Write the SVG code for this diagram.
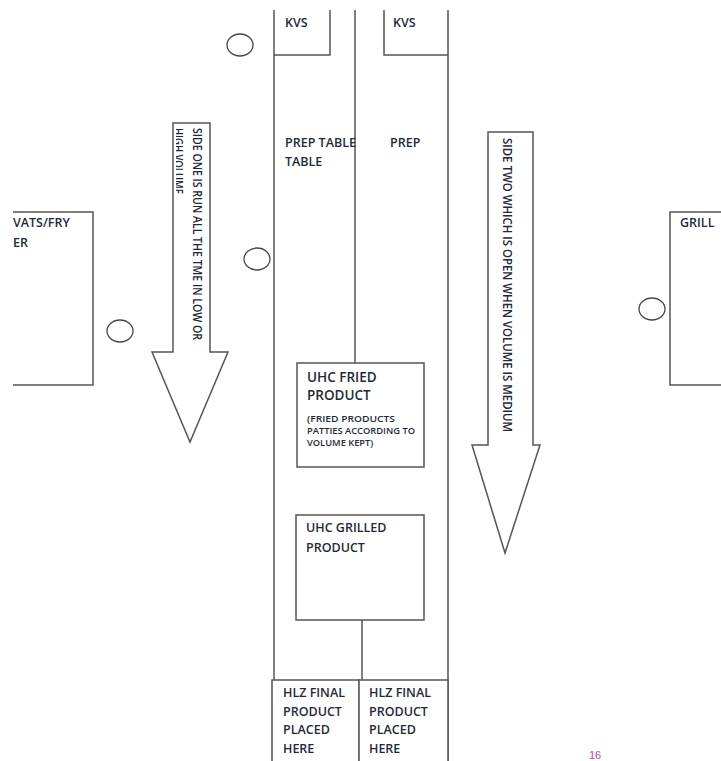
<svg xmlns="http://www.w3.org/2000/svg" width="721" height="761" viewBox="0 0 721 761">
<style>
.ln{fill:none;stroke:#555;stroke-width:1.5}
.bx{fill:#fff;stroke:#555;stroke-width:1.5}
.t{font-family:"Open Sans","Liberation Sans",sans-serif;font-weight:600;font-size:12.5px;fill:#1f2a38}
.s{font-family:"Open Sans","Liberation Sans",sans-serif;font-weight:600;font-size:9.3px;fill:#1f2a38}
.c{fill:#fff;stroke:#444;stroke-width:1.3}
</style>
<defs>
<clipPath id="clipL"><rect x="176" y="123" width="34" height="230"/></clipPath>
</defs>
<rect width="721" height="761" fill="#fff"/>
<g id="connectors">
<path class="ln" d="M274 10V680M355 10V363M448 10V761M362 620V680"/>
</g>
<g id="kvs1"><path class="ln" d="M330 10V55H274"/><text class="t" x="285" y="27">KVS</text></g>
<g id="kvs2"><path class="ln" d="M384 10V55H448"/><text class="t" x="393" y="27">KVS</text></g>
<g id="prep1"><text class="t" x="285" y="147">PREP TABLE</text><text class="t" x="285" y="166">TABLE</text></g>
<g id="prep2"><text class="t" x="390" y="147">PREP</text></g>
<g id="vats"><path class="ln" d="M13 212H93V385H13"/><text class="t" x="13" y="227">VATS/FRY</text><text class="t" x="13" y="247">ER</text></g>
<g id="grill"><path class="ln" d="M721 212H670V385H721"/><text class="t" x="680" y="227">GRILL</text></g>
<g id="circles">
<ellipse class="c" cx="240" cy="45" rx="13" ry="11"/>
<ellipse class="c" cx="257" cy="259" rx="13" ry="11"/>
<ellipse class="c" cx="120" cy="331" rx="13" ry="11"/>
<ellipse class="c" cx="652" cy="309" rx="13" ry="11"/>
</g>
<g id="arrow1">
<path class="bx" d="M173 123H210V352H228L190 442L152 352H173Z"/>
<g clip-path="url(#clipL)">
<text class="t" transform="translate(193,128) rotate(90)" textLength="212" lengthAdjust="spacingAndGlyphs">SIDE ONE IS RUN ALL THE TME IN LOW  OR</text>
<text class="t" transform="translate(174,128) rotate(90)" textLength="66" lengthAdjust="spacingAndGlyphs">HIGH VOLUME</text>
</g>
</g>
<g id="arrow2">
<path class="bx" d="M488 132H533V445H540L505 553L472 445H488Z"/>
<text class="t" transform="translate(503,138) rotate(90)" textLength="294" lengthAdjust="spacingAndGlyphs">SIDE TWO WHICH IS OPEN WHEN VOLUME  IS MEDIUM</text>
</g>
<g id="uhcFried">
<rect class="bx" x="297" y="363" width="127" height="104"/>
<text class="t" x="307" y="382" style="font-size:13.5px">UHC FRIED</text>
<text class="t" x="307" y="400" style="font-size:13.5px">PRODUCT</text>
<text class="s" x="307" y="422" textLength="88" lengthAdjust="spacingAndGlyphs">(FRIED PRODUCTS</text>
<text class="s" x="307" y="434" textLength="108" lengthAdjust="spacingAndGlyphs">PATTIES ACCORDING TO</text>
<text class="s" x="307" y="446">VOLUME KEPT)</text>
</g>
<g id="uhcGrilled">
<rect class="bx" x="296" y="515" width="128" height="105"/>
<text class="t" x="306" y="532">UHC GRILLED</text>
<text class="t" x="306" y="552">PRODUCT</text>
</g>
<g id="hlz1">
<rect class="bx" x="272" y="680" width="87" height="90"/>
<text class="t" x="283" y="697">HLZ FINAL</text>
<text class="t" x="283" y="716">PRODUCT</text>
<text class="t" x="283" y="734">PLACED</text>
<text class="t" x="283" y="753">HERE</text>
</g>
<g id="hlz2">
<rect class="bx" x="359" y="680" width="89" height="90"/>
<text class="t" x="369" y="697">HLZ FINAL</text>
<text class="t" x="369" y="716">PRODUCT</text>
<text class="t" x="369" y="734">PLACED</text>
<text class="t" x="369" y="753">HERE</text>
</g>
<text x="589" y="759" style="font-family:'Liberation Sans',sans-serif;font-size:11px;fill:#c040b0">16</text>
</svg>
